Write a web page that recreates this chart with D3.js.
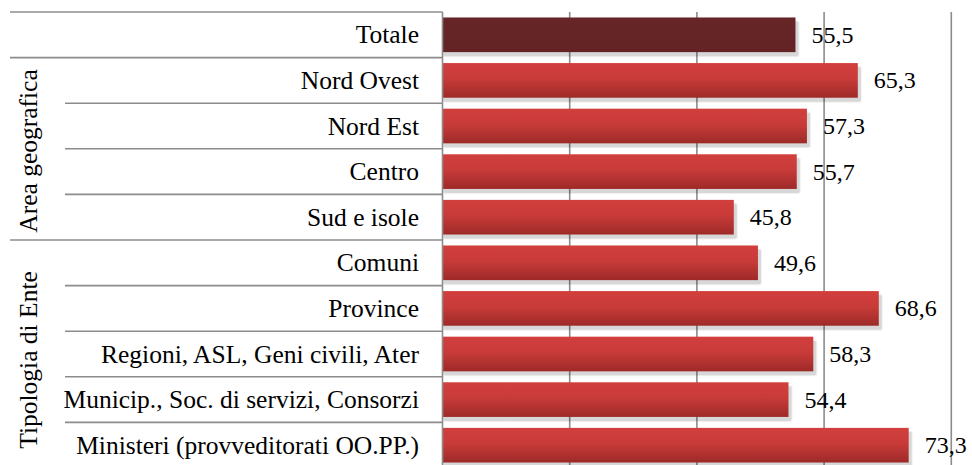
<!DOCTYPE html>
<html><head><meta charset="utf-8">
<script src="https://cdn.jsdelivr.net/npm/d3@7"></script>
</head><body style="margin:0">
<svg id="chart" width="972" height="465" style="font-family:'Times New Roman'"></svg>
<script>
const categories = ["Totale","Nord Ovest","Nord Est","Centro","Sud e isole","Comuni","Province","Regioni, ASL, Geni civili, Ater","Municip., Soc. di servizi, Consorzi","Ministeri (provveditorati OO.PP.)"];
const values = [55.5,65.3,57.3,55.7,45.8,49.6,68.6,58.3,54.4,73.3];
const groups = [
  {name:"Area geografica", from:"Nord Ovest", to:"Sud e isole"},
  {name:"Tipologia di Ente", from:"Comuni", to:"Ministeri (provveditorati OO.PP.)"}
];
const xTicks = [20,40,60,80];

const svg = d3.select("#chart");
const pLeft = 442.5, pRight = 951.3, pTop = 12, pBottom = 468;

const x = d3.scaleLinear().domain([0,80]).range([pLeft,pRight]);
const y = d3.scaleBand().domain(categories).range([pTop,pBottom]).paddingInner(0.24).paddingOuter(0.12);
const step = y.step();
const rowTop = c => pTop + categories.indexOf(c)*step;

const defs = svg.append("defs");
const g1 = defs.append("linearGradient").attr("id","gRed").attr("x1",0).attr("x2",0).attr("y1",0).attr("y2",1);
g1.append("stop").attr("offset","0%").attr("stop-color","#d23f3d");
g1.append("stop").attr("offset","45%").attr("stop-color","#c83b39");
g1.append("stop").attr("offset","100%").attr("stop-color","#9d2a28");
const g2 = defs.append("linearGradient").attr("id","gDark").attr("x1",0).attr("x2",0).attr("y1",0).attr("y2",1);
g2.append("stop").attr("offset","0%").attr("stop-color","#672527");
g2.append("stop").attr("offset","100%").attr("stop-color","#632325");

svg.append("g").selectAll("line").data(xTicks).join("line")
  .attr("x1",d=>x(d)).attr("x2",d=>x(d)).attr("y1",pTop).attr("y2",pBottom)
  .attr("stroke","#8c8c8c").attr("stroke-width",1.6);

const shadowLayers = [{d:1,o:0.06},{d:0,o:0.10}];
shadowLayers.forEach(s=>{
  svg.append("g").selectAll("rect").data(categories).join("rect")
    .attr("x",x(0)+1-s.d).attr("y",d=>y(d)+4-s.d)
    .attr("height",y.bandwidth()+2*s.d)
    .attr("width",(d,i)=>x(values[i])-x(0)+2+2*s.d)
    .attr("rx",2)
    .attr("fill","#000").attr("fill-opacity",s.o);
});

svg.append("g").selectAll("rect").data(categories).join("rect")
  .attr("x",x(0)).attr("y",d=>y(d)).attr("height",y.bandwidth())
  .attr("width",(d,i)=>x(values[i])-x(0))
  .attr("fill",(d,i)=>i===0?"url(#gDark)":"url(#gRed)");

categories.forEach((c,i)=>{
  svg.append("text")
    .attr("x",x(values[i])+16)
    .attr("y",rowTop(c)+step/2+8)
    .attr("font-size",24)
    .text(d3.format(".1f")(values[i]).replace(".",","));
});

const axisG = svg.append("g").attr("stroke","#8c8c8c").attr("stroke-width",1.6);
axisG.append("line").attr("x1",pLeft).attr("x2",pLeft).attr("y1",pTop).attr("y2",pBottom);
const firstOfGroup = new Set(groups.map(g=>g.from));
categories.forEach((c,i)=>{
  const yy = rowTop(c);
  const long = i===0 || firstOfGroup.has(c);
  axisG.append("line").attr("x1",long?10:65).attr("x2",pLeft).attr("y1",yy).attr("y2",yy);
});
axisG.append("line").attr("x1",10).attr("x2",pLeft).attr("y1",pBottom).attr("y2",pBottom);

categories.forEach(c=>{
  svg.append("text")
    .attr("x",419).attr("y",rowTop(c)+step/2+8.5)
    .attr("text-anchor","end")
    .attr("font-size",25.5)
    .text(c);
});

const groupCenters = [151, 360];
groups.forEach((g,i)=>{
  svg.append("text")
    .attr("transform",`translate(37,${groupCenters[i]}) rotate(-90)`)
    .attr("text-anchor","middle")
    .attr("font-size",25.5)
    .text(g.name);
});
</script>
</body></html>
